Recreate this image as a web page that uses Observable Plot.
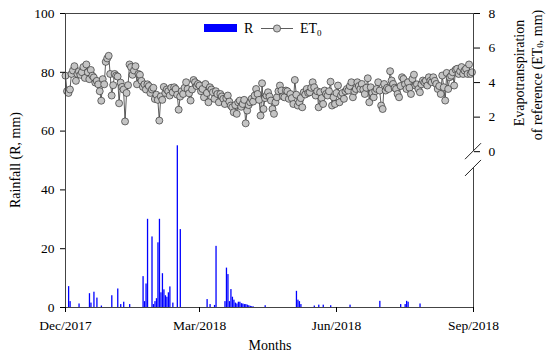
<!DOCTYPE html>
<html><head><meta charset="utf-8">
<script src="https://cdn.jsdelivr.net/npm/d3@7"></script>
<script src="https://cdn.jsdelivr.net/npm/@observablehq/plot@0.6"></script>
<style>body{margin:0;background:#fff} #chart svg{display:block}</style>
</head><body><div id="chart"></div>
<script>
// Daily reference evapotranspiration (ET0, mm), from 1 Dec 2017
const et0 = [
4.4,3.5,3.4,3.6,4.5,4.7,4.95,4.1,4.5,4.65,
4.45,4.6,4.9,4.27,5.05,4.6,4.2,4.73,4.4,4.3,
4.0,4.1,3.9,3.5,2.95,4.2,3.9,5.2,5.4,5.55,
4.5,3.25,3.85,4.5,4.4,4.35,2.8,4.0,3.75,3.6,
1.75,3.4,3.85,5.05,4.9,4.45,4.7,4.95,3.9,4.5,
4.45,4.1,3.75,3.9,3.6,3.9,3.8,3.4,3.6,3.7,
3.05,3.3,3.0,1.8,3.2,3.0,3.75,3.4,3.6,3.5,
3.25,3.7,3.44,3.73,3.63,3.3,2.43,3.19,3.5,3.34,
3.7,4.02,3.63,3.38,2.96,3.6,4.15,4.02,3.8,3.92,
3.83,3.5,3.63,3.15,3.92,3.4,2.86,3.73,3.6,3.44,
3.06,3.5,3.34,2.86,3.34,3.2,3.06,2.76,3.1,3.25,
2.9,2.67,2.57,2.28,2.7,2.19,2.86,2.96,2.6,2.76,
3.0,1.64,2.38,2.7,2.86,3.06,2.9,3.25,3.63,3.34,
3.0,2.09,3.96,2.47,3.1,3.25,3.44,3.2,2.96,2.47,
2.19,2.86,3.15,3.5,3.83,3.54,3.2,3.15,3.54,3.5,
3.06,3.34,3.1,2.76,4.15,3.3,2.67,2.86,3.1,2.57,
3.44,3.31,3.63,3.4,3.44,3.7,4.02,3.73,3.25,3.5,
2.57,3.44,3.1,2.76,3.54,3.34,3.25,3.5,4.05,2.67,
3.15,2.76,3.4,3.83,2.86,3.25,3.4,3.06,3.5,3.63,
3.54,3.8,4.02,3.15,3.5,3.63,4.02,3.8,3.63,3.92,
3.6,3.34,3.7,4.25,2.86,3.73,3.4,3.15,3.5,3.63,
4.02,3.54,2.67,2.47,3.92,3.54,3.7,3.63,4.66,4.12,
3.92,3.7,3.63,3.34,3.15,3.8,4.31,4.21,3.9,3.63,
4.02,3.7,3.34,4.21,4.46,3.83,3.9,3.63,3.44,3.9,
4.12,4.02,4.1,3.83,4.31,4.1,4.02,4.31,4.1,3.92,
3.63,3.8,3.34,4.41,3.73,2.96,4.56,3.63,4.31,4.4,
4.6,3.83,4.75,4.8,4.5,4.66,4.9,4.5,4.7,4.8,
4.5,5.05,4.5,4.6
];
// Rain days (offset in days from 1 Dec 2017) and rainfall (mm)
const rainDay = [2,3,9,16,17,19,21,24,31,35,37,39,43,52,53,54,55,58,59,60,61,62,63,64,65,66,67,68,69,70,72,75,77,95,97,100,101,107,108,109,110,111,112,113,114,115,116,117,118,119,120,121,122,123,124,125,126,134,155,156,157,158,167,170,173,178,191,211,225,228,229,230,238];
const rainMm = [7.1,2,1.2,4.7,1.5,5.2,3.2,0.5,4.0,6.3,1.0,1.8,1.0,10.5,2,8,30,24,1,2,3,22,30,5,11.5,6,4,3.5,5,7,1.5,55,26.5,2.7,1,0.7,20.8,2,13.4,11.2,2,6.1,3.5,2.5,1.5,1.2,1.8,1.8,1.3,1.2,1,1,0.8,0.6,0.4,0.3,0.2,0.6,5.5,2.5,2,1,0.5,0.8,0.8,0.6,0.8,2.1,1,1,2.1,1.8,1.2];

const rainTicks = [0,20,40,60,80,100];
const etTicks = [0,2,4,6,8];
const monthTicks = ["2017-12-01","2018-03-01","2018-06-01","2018-09-01"];
const monthLabels = ["Dec/2017","Mar/2018","Jun/2018","Sep/2018"];

// ET0 axis is drawn on the upper part of the rainfall axis: ET0 0 -> 53, ET0 8 -> 100
const etBase = 53, etUnit = 47/8;
const breakLow = 47.3;
const etToY = e => etBase + e * etUnit;

const DAY = 864e5;
const start = new Date(Date.UTC(2017,11,1));
const end = new Date(Date.UTC(2018,8,1));
const etData = et0.map((v,i)=>({date:new Date(start.getTime()+i*DAY), et:v}));
const rainData = rainDay.map((d,i)=>({d0:new Date(start.getTime()+d*DAY), d1:new Date(start.getTime()+(d+1)*DAY), r:rainMm[i]}));
const monthDates = monthTicks.map(s=>new Date(s+"T00:00:00Z"));
const etPos = etTicks.map(etToY);
const rightSegs = [{a:etBase,b:100},{a:0,b:breakLow}];

function breakMarks(index, scales) {
  const x = scales.x(end);
  const g = d3.create("svg:g").attr("stroke","#222").attr("stroke-width",1);
  for (const v of [etBase, breakLow]) {
    const y = scales.y(v);
    g.append("line").attr("x1",x-8).attr("y1",y+8).attr("x2",x+8).attr("y2",y-8);
  }
  return g.node();
}

const plot = Plot.plot({
  width:550, height:353,
  marginLeft:65, marginRight:77, marginTop:13, marginBottom:46,
  style:{fontFamily:"'Liberation Serif','Times New Roman',serif", fontSize:"13.5px", color:"#000", background:"#fff", overflow:"visible"},
  x:{type:"utc", domain:[start,end]},
  y:{domain:[0,100]},
  marks:[
    Plot.rect(rainData,{x1:"d0", x2:"d1", y1:0, y2:"r", fill:"#0000ff", insetRight:0.2}),
    Plot.line(etData,{x:"date", y:d=>etToY(d.et), stroke:"#333", strokeWidth:0.8}),
    Plot.dot(etData,{x:"date", y:d=>etToY(d.et), r:3.5, fill:"#c4c4c4", stroke:"#333", strokeWidth:0.7}),
    Plot.ruleX([start],{stroke:"#444"}),
    Plot.ruleY([0,100],{stroke:"#444"}),
    Plot.ruleX(rightSegs,{x:()=>end, y1:"a", y2:"b", stroke:"#444"}),
    breakMarks,
    Plot.axisY(rainTicks,{anchor:"left", tickSize:5, tickPadding:6, label:null}),
    Plot.axisY(etPos,{anchor:"right", tickSize:6, tickPadding:9, label:null,
      tickFormat:v=>etTicks[etPos.findIndex(p=>Math.abs(p-v)<1e-6)]}),
    Plot.axisX(monthDates,{tickSize:5, tickPadding:8, label:null,
      tickFormat:d=>monthLabels[monthDates.findIndex(t=>+t===+d)]})
  ]
});
document.getElementById("chart").appendChild(plot);

const svg = d3.select(plot);
const font = "'Liberation Serif','Times New Roman',serif";
// axis titles
svg.append("text").attr("transform","translate(15,160) rotate(-90)")
  .attr("text-anchor","middle").attr("dominant-baseline","central")
  .attr("font-family",font).attr("font-size",14).text("Rainfall (R, mm)");
svg.append("text").attr("x",270).attr("y",350).attr("text-anchor","middle")
  .attr("font-family",font).attr("font-size",14).text("Months");
svg.append("text").attr("transform","translate(519,73) rotate(-90)")
  .attr("text-anchor","middle").attr("dominant-baseline","central")
  .attr("font-family",font).attr("font-size",14).text("Evapotranspiration");
const t2 = svg.append("text").attr("transform","translate(537,75) rotate(-90)")
  .attr("text-anchor","middle").attr("dominant-baseline","central")
  .attr("font-family",font).attr("font-size",14);
t2.append("tspan").text("of reference (ET");
t2.append("tspan").attr("font-size",9).attr("dy",3).text("0");
t2.append("tspan").attr("dy",-3).text(", mm)");

// legend
const lg = svg.append("g").attr("font-family",font).attr("font-size",14).attr("text-anchor","start");
lg.append("rect").attr("x",204).attr("y",24).attr("width",33).attr("height",8).attr("fill","#0000ff");
lg.append("text").attr("x",244).attr("y",33).attr("text-anchor","start").text("R");
lg.append("line").attr("x1",261).attr("x2",293).attr("y1",28.5).attr("y2",28.5).attr("stroke","#333").attr("stroke-width",0.8);
lg.append("circle").attr("cx",277).attr("cy",28.5).attr("r",3.6).attr("fill","#c4c4c4").attr("stroke","#333").attr("stroke-width",0.7);
const lt = lg.append("text").attr("x",300).attr("y",33).attr("text-anchor","start");
lt.append("tspan").text("ET");
lt.append("tspan").attr("font-size",9).attr("dy",3).text("0");
</script>
</body></html>
